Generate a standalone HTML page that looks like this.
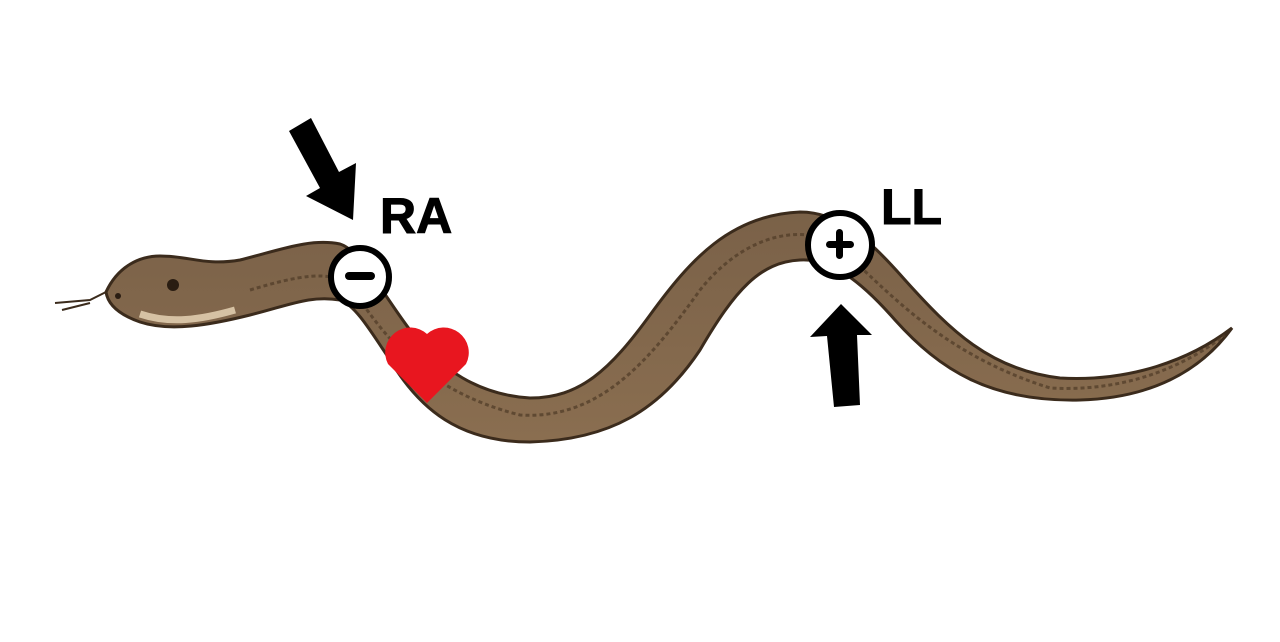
<!DOCTYPE html>
<html><head><style>body{margin:0;background:#fff}svg{display:block}</style></head><body>
<svg width="1280" height="642" viewBox="0 0 1280 642" xmlns="http://www.w3.org/2000/svg">
<defs>
<linearGradient id="g" x1="0" y1="0" x2="0" y2="1"><stop offset="0" stop-color="#7a6148"/><stop offset="1" stop-color="#8a6e50"/></linearGradient>
</defs>
<path d="M106,292 C118,266 140,256 160,256 C190,256 205,266 240,260 C280,250 310,238 340,244 C360,250 380,290 410,330 C440,370 480,395 530,398 C580,398 610,370 650,315 C690,260 730,215 800,212 C840,212 870,240 905,280 C950,330 990,370 1060,378 C1130,382 1190,360 1232,328 C1200,372 1150,398 1080,400 C990,402 940,370 895,320 C860,280 830,258 800,260 C760,262 735,290 700,350 C660,410 610,440 530,442 C460,442 420,410 390,360 C370,330 355,305 340,300 C310,295 290,305 250,315 C210,325 170,332 140,322 C120,315 108,305 106,292 Z" fill="url(#g)" stroke="#3b2b1c" stroke-width="3"/>
<path d="M140,314 C170,324 200,320 235,310" fill="none" stroke="#d6c2a4" stroke-width="7"/>
<path d="M250,290 C300,275 330,270 350,285 C380,330 420,390 520,415 C600,420 650,360 700,290 C740,240 790,225 830,240 C880,280 930,350 1050,388 C1120,392 1180,370 1225,335" fill="none" stroke="#4f3b27" stroke-width="3" stroke-dasharray="4 3" opacity="0.7"/>
<path d="M55,303 L90,300 L106,292 M62,310 L90,303" stroke="#3b2b1c" stroke-width="2" fill="none"/>
<circle cx="173" cy="285" r="6" fill="#2a1d12"/>
<circle cx="118" cy="296" r="3" fill="#2a1d12"/>
<path d="M427,403 L388,364 A25,25 0 0 1 427,334 A25,25 0 0 1 466,364 Z" fill="#e8161f"/>
<circle cx="360" cy="277" r="29" fill="#fff" stroke="#000" stroke-width="6"/>
<rect x="345" y="272" width="30" height="8" rx="4" fill="#000"/>
<circle cx="840" cy="245" r="32" fill="#fff" stroke="#000" stroke-width="6"/>
<rect x="826" y="241" width="28" height="7" rx="3.5" fill="#000"/>
<rect x="836" y="229" width="7" height="30" rx="3.5" fill="#000"/>
<polygon points="289,131 311,118 339,172 356,163 353,220 306,196 320,188" fill="#000"/>
<polygon points="834,407 860,405 857,335 872,335 841,304 810,337 827,336" fill="#000"/>
<text x="380" y="233" font-family="Liberation Sans, sans-serif" font-weight="bold" font-size="50" fill="#000" stroke="#000" stroke-width="1">RA</text>
<text x="881" y="224" font-family="Liberation Sans, sans-serif" font-weight="bold" font-size="50" fill="#000" stroke="#000" stroke-width="1">LL</text>
</svg>
</body></html>
